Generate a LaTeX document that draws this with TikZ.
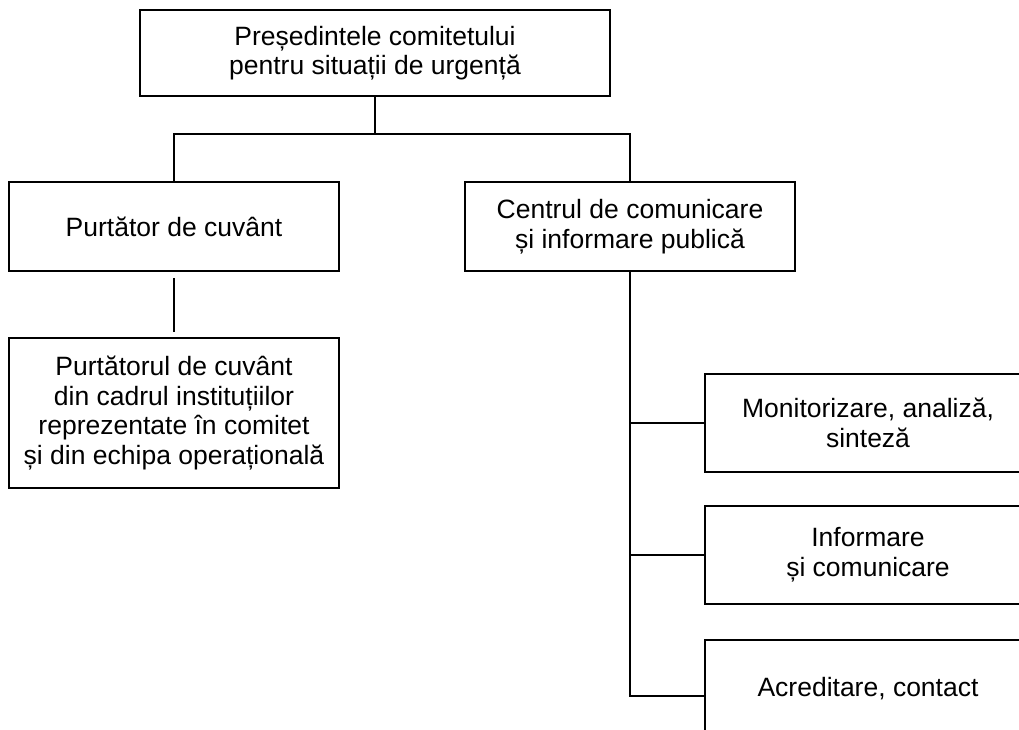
\documentclass[tikz,border=0pt]{standalone}
\usepackage{fontspec}
\setmainfont{Liberation Sans}
\usetikzlibrary{positioning,calc}
\tikzstyle{block} = [draw, rectangle, line width=1.8pt, inner sep=0pt,
    minimum height=89pt, minimum width=330pt, text=black, align=center,
    font=\fontsize{26.5}{29.5}\selectfont]
\tikzstyle{task} = [block, minimum height=98pt, minimum width=326pt]
\tikzstyle{link} = [draw, line width=1.8pt]

\begin{document}
\begin{tikzpicture}[x=1pt, y=1pt, node distance=32pt]
    \clip (0,0) rectangle (1019,-729);
    \node at (375,-53) [block, name=pres, minimum width=470pt, minimum height=86pt] {Președintele comitetului\\ pentru situații de urgență};
    \node at (174,-226.5) [block] (purt) {Purtător de cuvânt};
    \node at (630,-226.5) [block] (centru) {Centrul de comunicare\\ și informare publică};
    \node at (174,-413) [block, minimum height=150pt] (inst) {Purtătorul de cuvânt\\ din cadrul instituțiilor\\ reprezentate în comitet\\ și din echipa operațională};

    % compartimentele centrului
    \node at (868,-423) [task] (monit) {Monitorizare, analiză,\\ sinteză};
    \node [task, below=of monit] (inform) {Informare\\ și comunicare};
    \node [task, below=34pt of inform] (acred) {Acreditare, contact};

    \coordinate (fork) at ($(pres.south) + (0,-37)$);
    \draw [link] (pres.south) -- (fork);
    \draw [link] (purt.north) |- (fork) -| (centru.north);
    \draw [link, shorten <=6pt, shorten >=5pt] (purt.south) -- (inst.north);

    \coordinate (spine) at ($(centru.south) + (0,-424)$);
    \draw [link] (centru.south) -- (spine) -- (spine -| acred.west);
    \draw [link] (centru.south |- monit.west) -- (monit.west);
    \draw [link] (centru.south |- inform.west) -- (inform.west);
\end{tikzpicture}
\end{document}
